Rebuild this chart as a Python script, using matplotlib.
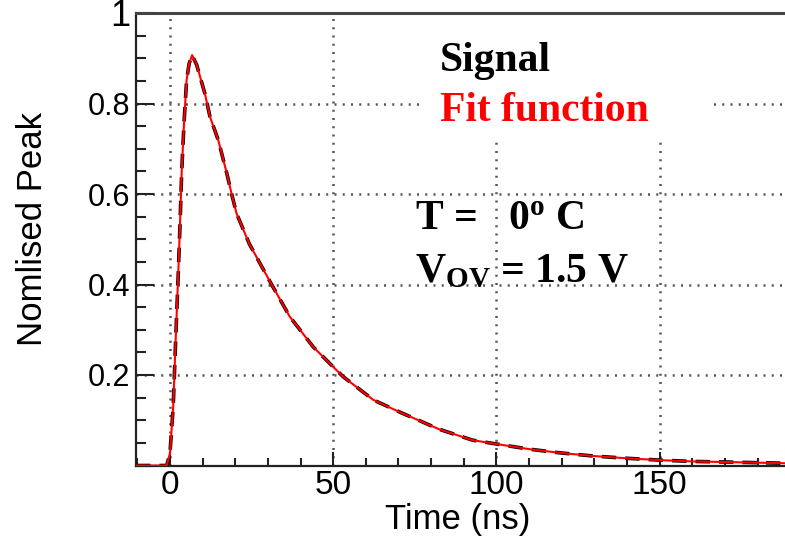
import matplotlib
matplotlib.use("Agg")
import matplotlib.pyplot as plt
from matplotlib.patches import Rectangle

plt.rcParams['mathtext.fontset'] = 'custom'
plt.rcParams['mathtext.rm'] = 'Liberation Serif:bold'
plt.rcParams['mathtext.it'] = 'Liberation Serif:bold'
plt.rcParams['mathtext.bf'] = 'Liberation Serif:bold'

# ---- data ----
time_ns = [-10.4, -1.0, 0.0, 1.0, 1.75, 2.55, 3.06, 3.58, 4.3, 5.1, 5.9, 6.8,
           8.2, 10.7, 12.25, 14.8, 17.4, 18.9, 20.4, 24.3, 30.9, 36.7, 43.9,
           50.0, 53.1, 62.3, 70.4, 82.5, 92.7, 100.0, 110.2, 119.4, 129.6,
           139.8, 149.7, 160.0, 170.2, 188.4]
signal = [0.0, 0.0, 0.027, 0.13, 0.277, 0.425, 0.528, 0.646, 0.756, 0.852,
          0.889, 0.907, 0.885, 0.822, 0.771, 0.719, 0.646, 0.600, 0.557, 0.49,
          0.403, 0.329, 0.262, 0.218, 0.196, 0.145, 0.118, 0.080, 0.056,
          0.0475, 0.036, 0.028, 0.021, 0.016, 0.012, 0.009, 0.0077, 0.005]
fit_time = list(time_ns)
fit_values = list(signal)

x_major = [0, 50, 100, 150]
x_labels = ['0', '50', '100', '150']
y_major = [0.0, 0.2, 0.4, 0.6, 0.8, 1.0]
y_labels = ['', '0.2', '0.4', '0.6', '0.8', '1']

legend_labels = ['Signal', 'Fit function']
legend_colors = ['black', 'red']

# ---- figure ----
fig = plt.figure(figsize=(7.85, 5.47), dpi=100)
ax = fig.add_axes([136 / 785, 81.5 / 547, 649 / 785, 452.5 / 547])

ax.set_xlim(-10.4, 188.4)
ax.set_ylim(0, 1)

# grid
ax.set_xticks(x_major)
ax.set_yticks(y_major)
ax.grid(True, color='#555555', linestyle=(0, (0.8, 2.5)), linewidth=1.8)
ax.set_axisbelow(True)

# curves
ax.plot(time_ns, signal, color='black', linewidth=2.6, linestyle=(0, (4, 2.5)), zorder=3)
ax.plot(fit_time, fit_values, color='red', linewidth=1.5, zorder=4)

# white legend box covering grid
ax.add_patch(Rectangle((76.6, 0.715), 88.2, 0.276, transform=ax.transData,
                       facecolor='white', edgecolor='none', zorder=2))
leg_y = [(547 - 71) / 547, (547 - 121) / 547]
for lab, col, yy in zip(legend_labels, legend_colors, leg_y):
    fig.text(440 / 785, yy, lab, color=col, fontsize=30, fontweight='bold',
             family='Liberation Serif', va='baseline', ha='left', zorder=5)

fig.text(415 / 785, (547 - 229) / 547, 'T =   0$^{\\mathrm{o}}$ C', fontsize=30,
         fontweight='bold', family='Liberation Serif', va='baseline', ha='left')
fig.text(415 / 785, (547 - 282) / 547, 'V$_{\\mathrm{OV}}$ = 1.5 V', fontsize=30,
         fontweight='bold', family='Liberation Serif', va='baseline', ha='left')

# ticks
ax.set_xticklabels(x_labels, fontsize=24, family='Liberation Sans')
ax.set_yticklabels(y_labels, fontsize=22, family='Liberation Sans')
for t in ax.get_yticklabels():
    if t.get_text() == '1':
        t.set_fontsize(26)
ax.set_xticks(range(-10, 190, 10), minor=True)
ax.set_yticks([i * 0.05 for i in range(21)], minor=True)
ax.tick_params(axis='both', which='both', direction='in', color='#222222', width=1.5)
ax.tick_params(axis='y', which='major', length=13, pad=4)
ax.tick_params(axis='y', which='minor', length=7)
ax.tick_params(axis='x', which='major', length=10, pad=3)
ax.tick_params(axis='x', which='minor', length=6)
ax.tick_params(axis='x', which='both', top=False)
ax.tick_params(axis='y', which='both', right=False)

for s in ['left', 'bottom']:
    ax.spines[s].set_linewidth(1.6)
    ax.spines[s].set_color('#222222')
ax.spines['top'].set_linewidth(2.2)
ax.spines['top'].set_color('#444444')
ax.spines['right'].set_visible(False)

ax.set_xlabel('Time (ns)', fontsize=25, family='Liberation Sans')
ax.set_ylabel('Nomlised Peak', fontsize=25, family='Liberation Sans')
ax.xaxis.set_label_coords(0.495, -0.083)
ax.yaxis.set_label_coords(-0.134, 0.523)

fig.savefig('out.png', dpi=100)
